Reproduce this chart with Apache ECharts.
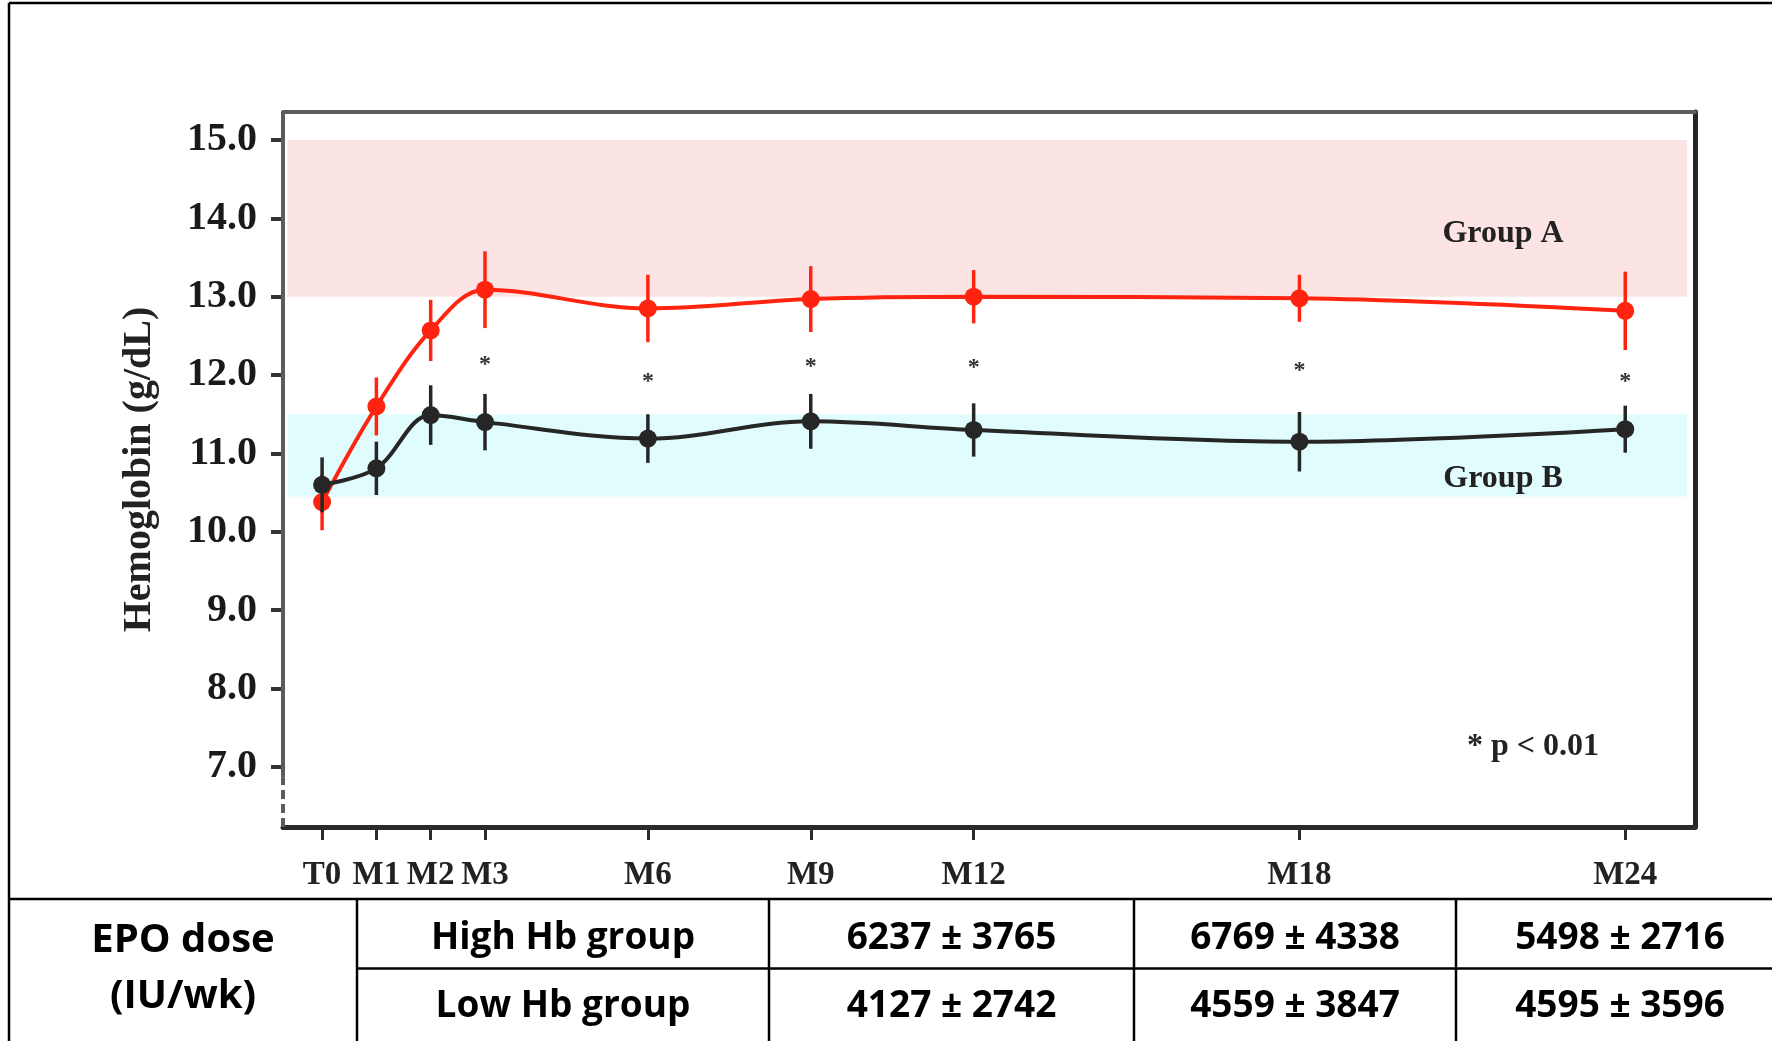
<!DOCTYPE html>
<html>
<head>
<meta charset="utf-8">
<title>Hemoglobin by visit and EPO dose</title>
<script src="https://cdn.jsdelivr.net/npm/echarts@6/dist/echarts.min.js"></script>
<style>
  html, body { margin: 0; padding: 0; background: #fff; }
  #chart { width: 1772px; height: 1041px; }
</style>
</head>
<body>
<div id="chart"></div>
<script>
// Visits, in months from baseline, and their tick labels
const months = [0, 1, 2, 3, 6, 9, 12, 18, 24];
const visitLabels = ['T0', 'M1', 'M2', 'M3', 'M6', 'M9', 'M12', 'M18', 'M24'];

// Hemoglobin (g/dL): mean and SD per visit
const groupAMean = [10.38, 11.60, 12.57, 13.09, 12.85, 12.97, 13.00, 12.98, 12.82];
const groupASd   = [0.36, 0.37, 0.39, 0.49, 0.43, 0.42, 0.34, 0.30, 0.50];
const groupBMean = [10.60, 10.81, 11.49, 11.40, 11.19, 11.41, 11.30, 11.15, 11.31];
const groupBSd   = [0.35, 0.34, 0.38, 0.36, 0.31, 0.35, 0.34, 0.38, 0.30];

// Visits where the two groups differ (p < 0.01)
const significantMonths = [3, 6, 9, 12, 18, 24];

// Target ranges
const groupARange = [13.0, 15.0];
const groupBRange = [10.45, 11.5];

// Y-axis tick values
const yTickValues = [7, 8, 9, 10, 11, 12, 13, 14, 15];

// EPO dose table
const doseRowLabels = ['High Hb group', 'Low Hb group'];
const doseHigh = ['6237 \u00b1 3765', '6769 \u00b1 4338', '5498 \u00b1 2716'];
const doseLow  = ['4127 \u00b1 2742', '4559 \u00b1 3847', '4595 \u00b1 3596'];

const X_MIN = -0.72, X_MAX = 25.285;
const Y_MIN = 6.234, Y_MAX = 15.357;
const RED = '#ff2410';
const DARK = '#262626';
const SERIF = '"Liberation Serif", "DejaVu Serif", serif';

function errorBarData(mean, sd) {
  return months.map((m, i) => [m, mean[i] - sd[i], mean[i] + sd[i]]);
}

function errorBarSeries(mean, sd, color) {
  return {
    type: 'custom',
    z: 4,
    silent: true,
    data: errorBarData(mean, sd),
    encode: { x: 0, y: [1, 2] },
    renderItem: function (params, api) {
      const lo = api.coord([api.value(0), api.value(1)]);
      const hi = api.coord([api.value(0), api.value(2)]);
      return {
        type: 'line',
        shape: { x1: lo[0], y1: lo[1], x2: hi[0], y2: hi[1] },
        style: { stroke: color, lineWidth: 3.5 }
      };
    }
  };
}

// Asterisks sit halfway between the lower A bar end and the upper B bar end
const asteriskData = significantMonths.map(m => {
  const i = months.indexOf(m);
  return [m, ((groupAMean[i] - groupASd[i]) + (groupBMean[i] + groupBSd[i])) / 2];
});

// ---- table drawn below the plot ----
const tableTop = 899, rowDivider = 968.5, tableBottom = 1041;
const colX = [9, 357, 769, 1134, 1456, 1772];
const rowCenter = [938, 1006];
const tableGraphics = [];
const lineStyle = { stroke: '#000', lineWidth: 2.5 };
// outer figure border (top and left)
tableGraphics.push({ type: 'line', shape: { x1: 9, y1: 3, x2: 1772, y2: 3 }, style: lineStyle });
tableGraphics.push({ type: 'line', shape: { x1: 9, y1: 3, x2: 9, y2: tableBottom }, style: lineStyle });
tableGraphics.push({ type: 'line', shape: { x1: 9, y1: tableTop, x2: 1772, y2: tableTop }, style: lineStyle });
tableGraphics.push({ type: 'line', shape: { x1: colX[1], y1: rowDivider, x2: 1772, y2: rowDivider }, style: lineStyle });
for (let c = 1; c < colX.length - 1; c++) {
  tableGraphics.push({ type: 'line', shape: { x1: colX[c], y1: tableTop, x2: colX[c], y2: tableBottom }, style: lineStyle });
}
const tableFont = 'bold 37px "Open Sans", "Noto Sans", sans-serif';
function cellText(text, x, y, font) {
  return {
    type: 'text', x: x, y: y, z: 10,
    style: { text: text, fill: '#000', font: font || tableFont, align: 'center', verticalAlign: 'middle' }
  };
}
const headFont = 'bold 40px "Open Sans", "Noto Sans", sans-serif';
tableGraphics.push(cellText('EPO dose', (colX[0] + colX[1]) / 2, 941, headFont));
tableGraphics.push(cellText('(IU/wk)', (colX[0] + colX[1]) / 2, 997, headFont));
doseRowLabels.forEach((label, r) => {
  tableGraphics.push(cellText(label, (colX[1] + colX[2]) / 2, rowCenter[r]));
});
[doseHigh, doseLow].forEach((row, r) => {
  row.forEach((txt, c) => {
    const left = colX[c + 2], right = c === row.length - 1 ? 1784 : colX[c + 3];
    tableGraphics.push(cellText(txt, (left + right) / 2, rowCenter[r]));
  });
});

const chart = echarts.init(document.getElementById('chart'), null, { renderer: 'canvas' });

const option = {
  backgroundColor: '#ffffff',
  animation: false,
  grid: { left: 283, right: 77, top: 112, bottom: 214, containLabel: false },
  xAxis: [
    {
      type: 'value', min: X_MIN, max: X_MAX, position: 'bottom',
      axisLine: { show: true, onZero: false, lineStyle: { color: '#2b2b2b', width: 5 } },
      axisTick: { show: true, customValues: months, length: 13, lineStyle: { color: '#2b2b2b', width: 3 } },
      axisLabel: {
        customValues: months,
        formatter: v => visitLabels[months.indexOf(v)],
        margin: 32,
        fontFamily: SERIF, fontWeight: 'bold', fontSize: 33, color: '#222'
      },
      splitLine: { show: false }
    },
    {
      type: 'value', min: X_MIN, max: X_MAX, position: 'top',
      axisLine: { show: true, onZero: false, lineStyle: { color: '#5c5c5c', width: 4 } },
      axisTick: { show: false }, axisLabel: { show: false }, splitLine: { show: false }
    }
  ],
  yAxis: [
    {
      type: 'value', min: Y_MIN, max: Y_MAX, position: 'left',
      name: 'Hemoglobin (g/dL)', nameLocation: 'middle', nameGap: 123,
      nameTextStyle: { fontFamily: SERIF, fontWeight: 'bold', fontSize: 40, color: '#222' },
      axisLine: { show: false, onZero: false },
      axisTick: { show: true, customValues: yTickValues, length: 12, lineStyle: { color: '#333', width: 4 } },
      axisLabel: {
        customValues: yTickValues,
        formatter: v => v.toFixed(1),
        margin: 26,
        fontFamily: SERIF, fontWeight: 'bold', fontSize: 40, color: '#1a1a1a'
      },
      splitLine: { show: false }
    },
    {
      type: 'value', min: Y_MIN, max: Y_MAX, position: 'right',
      axisLine: { show: true, onZero: false, lineStyle: { color: '#262626', width: 5 } },
      axisTick: { show: false }, axisLabel: { show: false }, splitLine: { show: false }
    }
  ],
  series: [
    // target ranges and the broken left axis
    {
      type: 'line', data: [], silent: true, clip: false, z: 1,
      markArea: {
        silent: true,
        data: [
          [{ xAxis: -0.64, yAxis: groupARange[0], itemStyle: { color: '#fde4e4' } }, { xAxis: 25.14, yAxis: groupARange[1] }],
          [{ xAxis: -0.64, yAxis: groupBRange[0], itemStyle: { color: '#e1fcfc' } }, { xAxis: 25.14, yAxis: groupBRange[1] }]
        ]
      },
      markLine: {
        silent: true, symbol: ['none', 'none'], label: { show: false },
        data: [
          [{ coord: [X_MIN, 6.87], lineStyle: { color: '#5c5c5c', width: 4, type: 'solid' } }, { coord: [X_MIN, Y_MAX] }],
          [{ coord: [X_MIN, Y_MIN], lineStyle: { color: '#5c5c5c', width: 4, type: [9, 5] } }, { coord: [X_MIN, 6.87] }]
        ]
      }
    },
    {
      name: 'Group A', type: 'line', z: 3,
      data: months.map((m, i) => [m, groupAMean[i]]),
      smooth: 0.35,
      symbol: 'circle', symbolSize: 18,
      itemStyle: { color: RED },
      lineStyle: { color: RED, width: 4 }
    },
    errorBarSeries(groupAMean, groupASd, RED),
    {
      name: 'Group B', type: 'line', z: 5,
      data: months.map((m, i) => [m, groupBMean[i]]),
      smooth: 0.35,
      symbol: 'circle', symbolSize: 18,
      itemStyle: { color: DARK },
      lineStyle: { color: DARK, width: 4 }
    },
    errorBarSeries(groupBMean, groupBSd, DARK),
    // significance markers
    {
      type: 'custom', z: 6, silent: true,
      data: asteriskData,
      renderItem: function (params, api) {
        const p = api.coord([api.value(0), api.value(1)]);
        return {
          type: 'text', x: p[0], y: p[1] + 4,
          style: { text: '*', fill: '#333', font: 'bold 24px ' + SERIF, align: 'center', verticalAlign: 'middle' }
        };
      }
    },
    // in-plot annotations
    {
      type: 'custom', z: 6, silent: true,
      data: [[21.75, 13.8, 'Group A'], [21.75, 10.68, 'Group B'], [22.3, 7.26, '* p < 0.01']],
      dimensions: ['x', 'y', 'text'],
      encode: { x: 0, y: 1 },
      renderItem: function (params, api) {
        const p = api.coord([api.value(0), api.value(1)]);
        return {
          type: 'text', x: p[0], y: p[1],
          style: { text: api.value(2), fill: '#222', font: 'bold 32px ' + SERIF, align: 'center', verticalAlign: 'middle' }
        };
      }
    }
  ],
  graphic: tableGraphics
};

chart.setOption(option);
</script>
</body>
</html>
